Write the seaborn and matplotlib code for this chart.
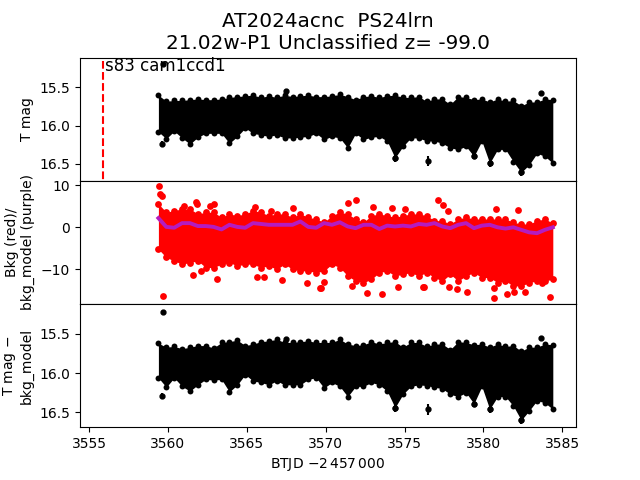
import matplotlib
matplotlib.use('Agg')
import matplotlib.pyplot as plt
import seaborn as sns

btjd = [3559.4, 3559.9, 3560.4, 3560.9, 3561.4, 3561.9, 3562.4, 3562.9, 3563.4, 3563.9,
        3564.4, 3564.9, 3565.4, 3565.9, 3566.4, 3566.9, 3567.4, 3567.9, 3568.4, 3568.9,
        3569.4, 3569.9, 3570.4, 3570.9, 3571.4, 3571.9, 3572.4, 3572.9, 3573.4, 3573.9,
        3574.4, 3574.9, 3575.4, 3575.9, 3576.4, 3576.9, 3577.4, 3577.9, 3578.4, 3578.9,
        3579.4, 3579.9, 3580.4, 3580.9, 3581.4, 3581.9, 3582.4, 3582.9, 3583.4, 3583.9,
        3584.4]

# brightest / faintest magnitudes seen around each time
mag_hi = [15.60, 15.68, 15.67, 15.67, 15.66, 15.65, 15.66, 15.66, 15.65, 15.63,
          15.62, 15.61, 15.60, 15.63, 15.61, 15.63, 15.60, 15.62, 15.61, 15.60,
          15.62, 15.62, 15.61, 15.59, 15.62, 15.66, 15.62, 15.61, 15.63, 15.61,
          15.60, 15.63, 15.63, 15.62, 15.68, 15.65, 15.65, 15.72, 15.62, 15.63,
          15.66, 15.65, 15.69, 15.65, 15.68, 15.67, 15.74, 15.69, 15.69, 15.65,
          15.66]
mag_lo = [16.08, 16.17, 16.07, 16.16, 16.24, 16.15, 16.10, 16.10, 16.10, 16.23,
          16.14, 16.03, 16.10, 16.12, 16.14, 16.12, 16.16, 16.16, 16.15, 16.14,
          16.10, 16.18, 16.14, 16.16, 16.29, 16.10, 16.18, 16.15, 16.14, 16.20,
          16.42, 16.27, 16.16, 16.16, 16.20, 16.20, 16.23, 16.29, 16.31, 16.27,
          16.40, 16.20, 16.49, 16.31, 16.31, 16.47, 16.61, 16.51, 16.36, 16.40,
          16.49]

sub_hi = [15.62, 15.67, 15.66, 15.69, 15.67, 15.65, 15.65, 15.68, 15.61, 15.60,
          15.58, 15.65, 15.63, 15.60, 15.59, 15.57, 15.61, 15.61, 15.60, 15.59,
          15.61, 15.61, 15.61, 15.57, 15.63, 15.65, 15.64, 15.60, 15.63, 15.61,
          15.60, 15.67, 15.61, 15.61, 15.66, 15.63, 15.63, 15.70, 15.60, 15.61,
          15.64, 15.63, 15.67, 15.63, 15.66, 15.65, 15.72, 15.67, 15.67, 15.63,
          15.64]
sub_lo = [16.06, 16.18, 16.06, 16.17, 16.23, 16.15, 16.08, 16.09, 16.08, 16.24,
          16.15, 16.02, 16.10, 16.12, 16.15, 16.10, 16.15, 16.15, 16.15, 16.08,
          16.06, 16.19, 16.12, 16.17, 16.30, 16.17, 16.17, 16.12, 16.15, 16.23,
          16.44, 16.27, 16.17, 16.15, 16.16, 16.18, 16.20, 16.27, 16.30, 16.25,
          16.39, 16.17, 16.46, 16.30, 16.30, 16.42, 16.60, 16.48, 16.35, 16.38,
          16.46]

bkg_hi = [5.6, 3.6, 4.0, 4.4, 4.4, 3.2, 3.6, 3.6, 2.4, 3.2,
          2.8, 3.2, 4.0, 3.6, 2.8, 3.2, 3.2, 2.4, 3.2, 2.4,
          2.0, 1.2, 2.8, 3.6, 3.2, 2.0, 1.2, 2.8, 3.2, 2.8,
          2.4, 2.8, 3.2, 3.2, 2.8, 1.6, 1.6, 0.8, 2.0, 2.4,
          2.0, 2.0, 2.0, 2.0, 2.0, 1.2, 0.8, 0.8, 1.6, 2.0,
          1.0]
bkg_lo = [-5.2, -7.2, -8.0, -8.8, -8.4, -8.0, -9.6, -9.6, -8.8, -8.4,
          -9.2, -8.8, -8.8, -9.6, -9.2, -10.0, -8.8, -10.0, -10.4, -10.4,
          -10.8, -10.4, -8.8, -9.6, -11.6, -12.8, -13.2, -12.4, -10.8, -10.4,
          -11.6, -11.2, -10.8, -11.6, -10.8, -12.0, -12.8, -11.2, -12.8, -11.6,
          -10.8, -12.0, -12.0, -13.2, -12.8, -14.0, -14.0, -13.2, -12.8, -12.8,
          -12.4]
bkg_model = [2.2, 0.1, -0.1, 1.0, 1.0, 0.3, 0.3, 0.1, -0.5, 0.6,
             0.1, -0.1, 1.0, 0.8, 0.6, 0.6, 0.6, 0.6, 1.4, 0.1,
             -0.1, 1.0, 0.6, 1.2, 0.2, -0.2, 0.6, 0.6, -0.4, 0.4,
             0.2, 0.4, 0.2, 0.8, 0.6, 1.0, 0.2, -0.2, 0.6, 1.0,
             -0.2, 0.4, 0.6, 0.0, -0.3, 0.0, -0.6, -1.2, -1.4, -0.6,
             0.0]

# points that stand clear of the band
out_t = [3559.44, 3559.47, 3559.61, 3559.69, 3561.79, 3561.85, 3562.93, 3562.67, 3561.02,
         3565.53, 3566.54, 3567.94, 3561.59, 3562.10, 3563.12, 3566.10, 3565.65, 3567.24,
         3568.82, 3569.65, 3569.90, 3571.93, 3571.42, 3573.01, 3574.21, 3575.04, 3569.71,
         3571.68, 3572.63, 3573.58, 3574.59, 3576.18, 3577.13, 3577.45, 3577.76, 3580.81,
         3582.20, 3576.24, 3577.83, 3578.34, 3578.97, 3580.68, 3580.68, 3581.51, 3581.95,
         3582.65, 3584.23, 3583.73]
out_bkg = [9.95, 8.0, 7.4, -16.4, 6.1, 5.6, 5.6, 5.2, 5.2,
           4.9, 4.0, 4.7, -11.4, -10.4, -12.3, -11.9, -11.9, -12.6,
           -13.3, -14.5, -13.1, 6.4, 5.9, 4.9, 4.7, 4.4, -14.5,
           -14.0, -15.7, -15.9, -14.3, -14.3, 6.6, 5.4, 4.0, 4.4,
           4.2, -14.3, -14.3, -14.8, -15.5, -14.5, -16.9, -15.9, -15.5,
           -15.5, -16.7, -13.3]

mag_pts_t = [3559.7, 3567.5, 3583.66, 3576.5, 3574.4, 3582.4, 3559.62, 3580.4, 3579.4]
mag_pts = [15.20, 15.55, 15.57, 16.46, 16.42, 16.61, 16.24, 16.49, 16.40]
mag_pts_err = [0.02, 0.02, 0.02, 0.07, 0.06, 0.05, 0.04, 0.05, 0.04]
sub_pts_t = [3559.7, 3567.5, 3583.66, 3576.5, 3574.4, 3582.4, 3559.62, 3580.4, 3579.4]
sub_pts = [15.22, 15.56, 15.55, 16.46, 16.44, 16.60, 16.29, 16.46, 16.39]
sub_pts_err = [0.02, 0.02, 0.02, 0.07, 0.06, 0.05, 0.04, 0.05, 0.04]

fig, axes = plt.subplots(3, 1, sharex=True, figsize=(6.4, 4.8), dpi=100)
fig.subplots_adjust(hspace=0)


def band(ax, hi, lo, color, s):
    ax.fill_between(btjd, hi, lo, color=color, lw=0)
    sns.scatterplot(x=btjd, y=hi, ax=ax, color=color, s=s, linewidth=0, legend=False)
    sns.scatterplot(x=btjd, y=lo, ax=ax, color=color, s=s, linewidth=0, legend=False)


band(axes[0], mag_hi, mag_lo, 'black', 18)
axes[0].errorbar(mag_pts_t, mag_pts, yerr=mag_pts_err, fmt='o', color='black', ms=3.5, lw=1.5)
axes[0].vlines(3555.9, 15.16, 16.72, color='red', linestyles='--', lw=1.5)
axes[0].text(3556.0, 15.28, 's83 cam1ccd1', fontsize=12)
axes[0].set_ylim(16.72, 15.11)
axes[0].set_yticks([15.5, 16.0, 16.5])
axes[0].set_ylabel('T mag')
axes[0].set_title('AT2024acnc  PS24lrn\n21.02w-P1 Unclassified z= -99.0', fontsize=14.4)

band(axes[1], bkg_hi, bkg_lo, 'red', 24)
sns.scatterplot(x=out_t, y=out_bkg, ax=axes[1], color='red', s=24, linewidth=0, legend=False)
sns.lineplot(x=btjd, y=bkg_model, ax=axes[1], color='#b41cc0', lw=2.8, errorbar=None)
axes[1].set_ylim(-18.3, 11.1)
axes[1].set_yticks([-10, 0, 10])
axes[1].set_ylabel('Bkg (red)/\nbkg_model (purple)')

band(axes[2], sub_hi, sub_lo, 'black', 18)
axes[2].errorbar(sub_pts_t, sub_pts, yerr=sub_pts_err, fmt='o', color='black', ms=3.5, lw=1.5)
axes[2].set_ylim(16.69, 15.12)
axes[2].set_yticks([15.5, 16.0, 16.5])
axes[2].set_ylabel('T mag $-$\nbkg_model')
axes[2].set_xlabel(r'BTJD $-2\,457\,000$')

axes[2].set_xlim(3554.43, 3585.87)
axes[2].set_xticks([3555, 3560, 3565, 3570, 3575, 3580, 3585])
axes[2].ticklabel_format(axis='x', useOffset=False)
axes[0].tick_params(axis='x', bottom=False)
axes[1].tick_params(axis='x', bottom=False)

plt.savefig('out.png', dpi=100)
plt.close('all')
